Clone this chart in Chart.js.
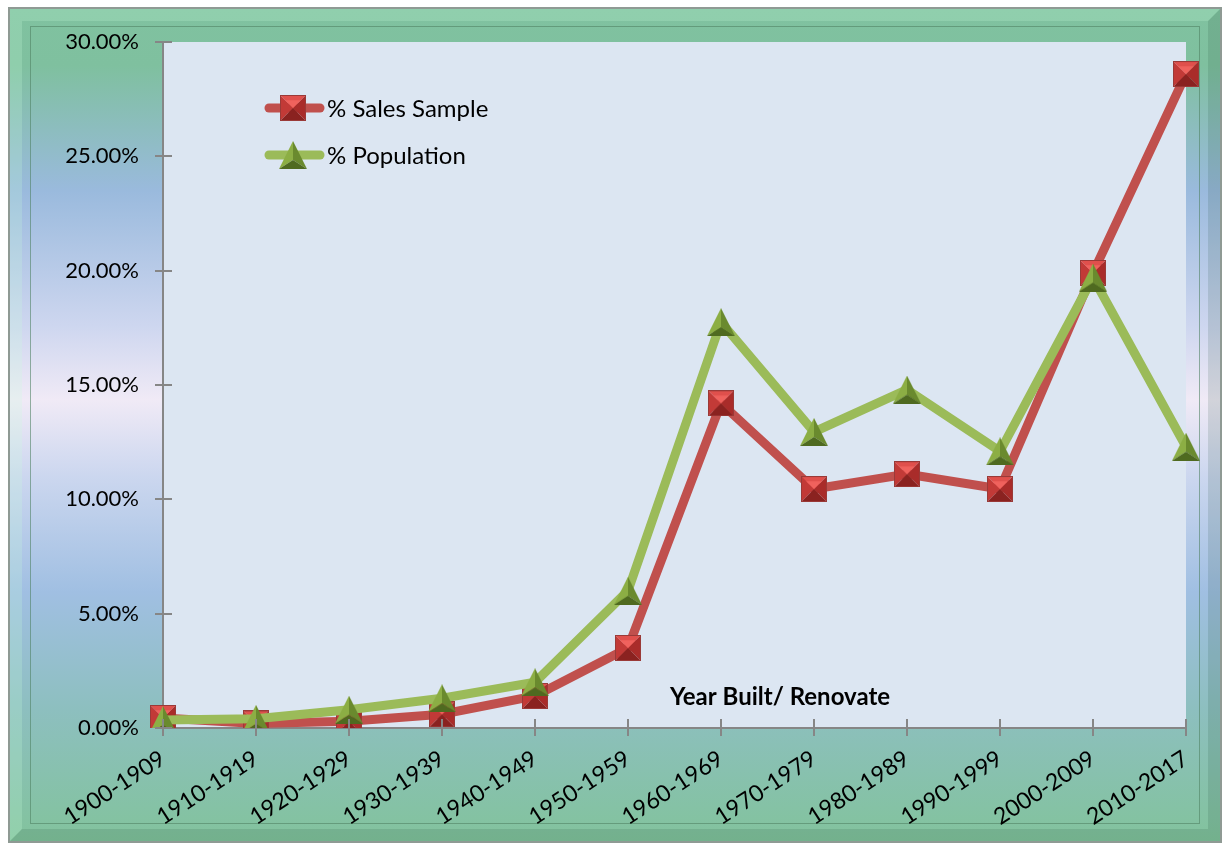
<!DOCTYPE html>
<html>
<head>
<meta charset="utf-8">
<script src="https://cdn.jsdelivr.net/npm/chart.js@4"></script>
<style>
  html, body { margin: 0; padding: 0; background: #fff; }
  #wrap { width: 1227px; height: 849px; position: relative; }
</style>
</head>
<body>
<div id="wrap"><canvas id="yearChart"></canvas></div>
<script>
const categories = ['1900-1909', '1910-1919', '1920-1929', '1930-1939', '1940-1949', '1950-1959',
    '1960-1969', '1970-1979', '1980-1989', '1990-1999', '2000-2009', '2010-2017'];
const salesSample = [0.44, 0.2, 0.3, 0.6, 1.4, 3.5, 14.2, 10.45, 11.1, 10.45, 19.9, 28.6];
const population = [0.35, 0.4, 0.8, 1.3, 2.0, 6.0, 17.75, 12.95, 14.8, 12.1, 19.7, 12.3];
const yTicks = [0, 5, 10, 15, 20, 25, 30];

const RED = '#c0504d';
const GREEN = '#9bbb59';
const AXIS = '#868686';
const FONT = 'Lato, "Open Sans", sans-serif';

// bevelled marker images (pyramid look)
function face(g, pts, col) {
    g.fillStyle = col;
    g.beginPath();
    pts.forEach(([x, y], k) => (k ? g.lineTo(x, y) : g.moveTo(x, y)));
    g.closePath();
    g.fill();
}

function squareMarker(s) {
    const c = document.createElement('canvas');
    c.width = s; c.height = s;
    const g = c.getContext('2d');
    const m = s / 2, i = s * 0.2;
    face(g, [[0, 0], [s, 0], [m, m]], '#e0504c');
    face(g, [[0, 0], [m, m], [0, s]], '#c23a37');
    face(g, [[s, 0], [s, s], [m, m]], '#a92c2a');
    face(g, [[0, s], [m, m], [s, s]], '#8a2220');
    face(g, [[i, i], [s - i, i], [m, m]], '#f0625d');
    g.strokeStyle = '#9a3a38';
    g.lineWidth = 1;
    g.strokeRect(0.5, 0.5, s - 1, s - 1);
    return c;
}

function triangleMarker(w, h) {
    const c = document.createElement('canvas');
    c.width = w; c.height = h;
    const g = c.getContext('2d');
    const m = w / 2, cy = h * 0.68;
    face(g, [[m, 0], [m, cy], [0, h]], '#8cae44');
    face(g, [[m, 0], [w, h], [m, cy]], '#6a8a2e');
    face(g, [[0, h], [m, cy], [w, h]], '#4f6a20');
    return c;
}

const SQUARE = squareMarker(26);
const TRIANGLE = triangleMarker(28, 28);

const framePlugin = {
    id: 'frame',
    beforeDraw(chart) {
        const { ctx, width, height, chartArea } = chart;
        ctx.save();
        ctx.fillStyle = '#fff';
        ctx.fillRect(0, 0, width, height);

        const x0 = 8, y0 = 7, w = width - 13, h = height - 13;
        const grad = ctx.createLinearGradient(0, y0, 0, y0 + h);
        grad.addColorStop(0, '#80c2a0');
        grad.addColorStop(0.07, '#7fc09f');
        grad.addColorStop(0.22, '#9abadd');
        grad.addColorStop(0.38, '#cdd6ef');
        grad.addColorStop(0.47, '#f0eaf6');
        grad.addColorStop(0.56, '#ccd7ef');
        grad.addColorStop(0.7, '#a0bfe2');
        grad.addColorStop(0.84, '#8dbfbf');
        grad.addColorStop(1, '#82c39c');
        ctx.fillStyle = grad;
        ctx.fillRect(x0, y0, w, h);

        // bevel: light top/left, dark bottom/right
        const bw = 14;
        ctx.fillStyle = 'rgba(200, 255, 220, 0.22)';
        ctx.beginPath();
        ctx.moveTo(x0, y0); ctx.lineTo(x0 + w, y0); ctx.lineTo(x0 + w - bw, y0 + bw);
        ctx.lineTo(x0 + bw, y0 + bw); ctx.lineTo(x0 + bw, y0 + h - bw); ctx.lineTo(x0, y0 + h);
        ctx.closePath(); ctx.fill();
        ctx.fillStyle = 'rgba(30, 70, 50, 0.14)';
        ctx.beginPath();
        ctx.moveTo(x0 + w, y0); ctx.lineTo(x0 + w, y0 + h); ctx.lineTo(x0, y0 + h);
        ctx.lineTo(x0 + bw, y0 + h - bw); ctx.lineTo(x0 + w - bw, y0 + h - bw); ctx.lineTo(x0 + w - bw, y0 + bw);
        ctx.closePath(); ctx.fill();

        ctx.lineWidth = 1;
        ctx.strokeStyle = 'rgba(80, 130, 100, 0.6)';
        ctx.strokeRect(x0 + 22.5, y0 + 19.5, w - 45, h - 39);
        ctx.lineWidth = 2;
        ctx.strokeStyle = '#8f9a94';
        ctx.strokeRect(x0 + 1, y0 + 1, w - 2, h - 2);

        ctx.fillStyle = '#dce6f2';
        ctx.fillRect(chartArea.left, chartArea.top,
            chartArea.right - chartArea.left, chartArea.bottom - chartArea.top);
        ctx.restore();
    },
    afterDraw(chart) {
        const { ctx, chartArea, scales } = chart;
        ctx.save();
        // crossing tick marks
        ctx.strokeStyle = AXIS;
        ctx.lineWidth = 2;
        ctx.beginPath();
        scales.y.ticks.forEach((t) => {
            const y = Math.round(scales.y.getPixelForValue(t.value));
            ctx.moveTo(chartArea.left - 8, y);
            ctx.lineTo(chartArea.left + 9, y);
        });
        categories.forEach((c, k) => {
            const x = Math.round(scales.x.getPixelForValue(k));
            ctx.moveTo(x, chartArea.bottom - 9);
            ctx.lineTo(x, chartArea.bottom + 8);
        });
        ctx.stroke();
        ctx.restore();
    },
    afterDatasetsDraw(chart) {
        const { ctx, chartArea } = chart;
        ctx.save();
        // axis title inside the plot
        ctx.font = 'bold 24px ' + FONT;
        ctx.fillStyle = '#000';
        ctx.textAlign = 'center';
        ctx.textBaseline = 'middle';
        ctx.fillText('Year Built/ Renovate', chartArea.left + 617, chartArea.bottom - 31);

        // legend
        const items = [
            { label: '% Sales Sample', color: RED, img: SQUARE, y: 108 },
            { label: '% Population', color: GREEN, img: TRIANGLE, y: 155 },
        ];
        items.forEach((it) => {
            ctx.strokeStyle = it.color;
            ctx.lineWidth = 9;
            ctx.lineCap = 'round';
            ctx.beginPath();
            ctx.moveTo(269, it.y);
            ctx.lineTo(320, it.y);
            ctx.stroke();
            ctx.drawImage(it.img, 293 - it.img.width / 2, it.y - it.img.height / 2);
            ctx.fillStyle = '#000';
            ctx.font = '24px ' + FONT;
            ctx.textAlign = 'left';
            ctx.fillText(it.label, 327, it.y + 1);
        });
        ctx.restore();
    },
};

new Chart(document.getElementById('yearChart'), {
    type: 'line',
    data: {
        labels: categories,
        datasets: [
            {
                label: '% Population',
                data: population,
                borderColor: GREEN,
                borderWidth: 9,
                pointStyle: TRIANGLE,
                pointRadius: 14,
                tension: 0,
                order: 1,
            },
            {
                label: '% Sales Sample',
                data: salesSample,
                borderColor: RED,
                borderWidth: 9,
                pointStyle: SQUARE,
                pointRadius: 13,
                tension: 0,
                order: 2,
            },
        ],
    },
    options: {
        responsive: true,
        maintainAspectRatio: false,
        animation: false,
        layout: { padding: { top: 42, right: 41, left: 0, bottom: 0 } },
        plugins: {
            legend: { display: false },
            tooltip: { enabled: false },
        },
        scales: {
            x: {
                offset: false,
                afterFit(scale) { scale.height = 121; },
                grid: { display: false, drawTicks: false },
                border: { color: AXIS, width: 2 },
                ticks: {
                    color: '#000',
                    minRotation: 33,
                    maxRotation: 33,
                    padding: 17,
                    font: { size: 23, family: FONT },
                },
            },
            y: {
                min: 0,
                max: 30,
                afterFit(scale) { scale.width = 163; },
                afterBuildTicks(scale) { scale.ticks = yTicks.map((v) => ({ value: v })); },
                grid: { display: false, drawTicks: false },
                border: { color: AXIS, width: 2 },
                ticks: {
                    color: '#000',
                    padding: 24,
                    font: { size: 22, family: FONT },
                    callback: (v) => v.toFixed(2) + '%',
                },
            },
        },
    },
    plugins: [framePlugin],
});
</script>
</body>
</html>
